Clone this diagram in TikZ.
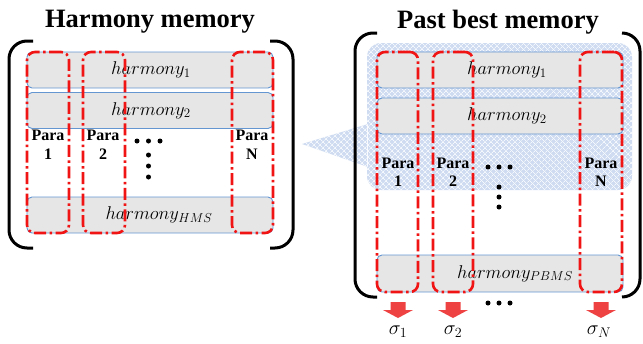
\RequirePackage{fix-cm}
\documentclass[tikz,border=0pt]{standalone}
\usepackage{fontspec}
\setmainfont{Liberation Serif}
\usetikzlibrary{patterns.meta}
\definecolor{rowgray}{RGB}{230,230,230}
\definecolor{rowblue}{RGB}{100,150,210}
\definecolor{colred}{RGB}{240,20,20}
\definecolor{callblue}{RGB}{206,219,240}
\definecolor{arrowred}{RGB}{238,66,66}
\tikzset{
  rowbox/.style={draw=rowblue, line width=0.9pt, fill=rowgray, rounded corners=5pt,
    minimum width=246pt, inner sep=0pt},
  rowtext/.style={inner sep=0pt, font=\fontsize{18.5}{21}\selectfont},
  colbox/.style={draw=colred, line width=2.6pt, rounded corners=8pt,
    dash pattern=on 12pt off 3.5pt on 2.5pt off 3.5pt, inner sep=0pt},
  bracketline/.style={line width=3pt, rounded corners=18pt},
  paralabel/.style={font=\fontsize{16}{18}\selectfont\bfseries, inner sep=0pt},
  titletext/.style={font=\bfseries\fontsize{26.5}{30}\selectfont, inner sep=0pt},
  sigmatext/.style={font=\fontsize{20}{22}\selectfont, inner sep=0pt},
  dotmark/.style={circle, fill=black, inner sep=0pt, minimum size=5pt},
  pics/downarrow/.style={code={
    \fill[arrowred] (-7.5,-8) -- (7.5,-8) -- (7.5,0) -- (15,0) -- (0,8) -- (-15,0) -- (-7.5,0) -- cycle;}}
}
\begin{document}
\begin{tikzpicture}[x=1pt,y=-1pt]
\useasboundingbox (0,0) rectangle (643,343);

% ---------- left panel: harmony memory ----------
\node[titletext] (hmtitle) at (150,22) {Harmony memory};
\draw[bracketline] (33,41) -- (9,41) -- (9,248) -- (33,248);
\draw[bracketline] (270,41) -- (293,41) -- (293,248) -- (270,248);

\node[rowbox, minimum height=36pt] (hm1) at (150,70) {};
\node[rowbox, minimum height=36pt] (hm2) at (150,110.5) {};
\node[rowbox, minimum height=36pt] (hmN) at (150,215) {};
\node[rowtext] (hm1t) at (151,70) {$harmony_1$};
\node[rowtext] (hm2t) at (151,110.5) {$harmony_2$};
\node[rowtext] (hmNt) at (159,215) {$harmony_{HMS}$};

\node[colbox, minimum width=42pt, minimum height=181pt] (hc1) at (48,142.5) {};
\node[colbox, minimum width=42pt, minimum height=181pt] (hc2) at (104,142.5) {};
\node[colbox, minimum width=41pt, minimum height=181pt] (hcN) at (252.5,142.5) {};

\node[paralabel] (hp1) at (48,135.5) {Para};
\node[paralabel] (hn1) at (48,154) {1};
\node[paralabel] (hp2) at (103,135.5) {Para};
\node[paralabel] (hn2) at (103,154) {2};
\node[paralabel] (hpN) at (252,135.5) {Para};
\node[paralabel] (hnN) at (252,154) {N};

\node[dotmark] (hd1) at (137,141) {};
\node[dotmark] (hd2) at (148.5,141) {};
\node[dotmark] (hd3) at (160,141) {};
\node[dotmark] (hv1) at (148.5,155) {};
\node[dotmark] (hv2) at (148.5,166) {};
\node[dotmark] (hv3) at (148.5,177) {};

% ---------- right panel: past best memory ----------
\node[titletext] (pbtitle) at (498,22) {Past best memory};

% hatched callout pointing back to the harmony memory
\def\calloutpath{[rounded corners=14pt] (367,43) rectangle (632,190)
  [sharp corners] (302,144) -- (368,124) -- (368,167) -- cycle}
\fill[callblue] \calloutpath;
\fill[pattern={Lines[angle=45,distance=4pt,line width=0.7pt]}, pattern color=white!80!callblue] \calloutpath;
\fill[pattern={Lines[angle=-45,distance=4pt,line width=0.7pt]}, pattern color=white!80!callblue] \calloutpath;

\draw[bracketline] (377,33) -- (355,33) -- (355,297) -- (377,297);
\draw[bracketline] (622,33) -- (640,33) -- (640,297) -- (622,297);

\node[rowbox, minimum height=36pt] (pb1) at (500,70) {};
\node[rowbox, minimum height=36pt] (pb2) at (500,116) {};
\node[rowbox, minimum height=37pt] (pbN) at (500,273.5) {};
\node[rowtext] (pb1t) at (507,70) {$harmony_1$};
\node[rowtext] (pb2t) at (507,116) {$harmony_2$};
\node[rowtext] (pbNt) at (515,273.5) {$harmony_{PBMS}$};

\node[colbox, minimum width=41pt, minimum height=240pt] (pc1) at (397.5,172) {};
\node[colbox, minimum width=40pt, minimum height=240pt] (pc2) at (453,172) {};
\node[colbox, minimum width=42pt, minimum height=240pt] (pcN) at (601,172) {};

\node[paralabel] (pp1) at (398,163) {Para};
\node[paralabel] (pn1) at (398,181.5) {1};
\node[paralabel] (pp2) at (453,163) {Para};
\node[paralabel] (pn2) at (453,181.5) {2};
\node[paralabel] (ppN) at (601,163) {Para};
\node[paralabel] (pnN) at (601,181.5) {N};

\node[dotmark] (pd1) at (488,167) {};
\node[dotmark] (pd2) at (499,167) {};
\node[dotmark] (pd3) at (510,167) {};
\node[dotmark] (pv1) at (499,187) {};
\node[dotmark] (pv2) at (499,197) {};
\node[dotmark] (pv3) at (499,207) {};

\node[dotmark] (pb1d) at (488,303) {};
\node[dotmark] (pb2d) at (499,303) {};
\node[dotmark] (pb3d) at (510,303) {};

% ---------- per-parameter outputs ----------
\pic (ar1) at (398,310) {downarrow};
\pic (ar2) at (453,310) {downarrow};
\pic (arN) at (601,310) {downarrow};

\node[sigmatext] (s1) at (398,332) {$\sigma_1$};
\node[sigmatext] (s2) at (453,332) {$\sigma_2$};
\node[sigmatext] (sN) at (599,332) {$\sigma_N$};
\end{tikzpicture}
\end{document}
